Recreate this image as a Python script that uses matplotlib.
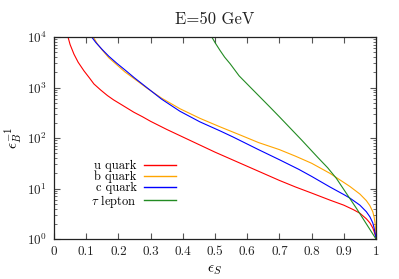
import matplotlib
matplotlib.use('Agg')
import matplotlib.pyplot as plt
import numpy as np

plt.rcParams['font.family'] = 'cmr10'
plt.rcParams['mathtext.fontset'] = 'cm'
plt.rcParams['axes.formatter.use_mathtext'] = True

# values: signal efficiency vs log10(1/eps_B)
u_eps = [0.0435, 0.05, 0.062, 0.075, 0.093, 0.11, 0.124, 0.145, 0.166, 0.185, 0.207,
         0.248, 0.275, 0.3, 0.35, 0.4, 0.45, 0.5, 0.55, 0.6, 0.65, 0.7, 0.75, 0.8,
         0.857, 0.9, 0.93, 0.95, 0.97, 0.981, 0.99, 0.994, 0.998, 1.0]
u_log = [4.0, 3.85, 3.66, 3.50, 3.33, 3.19, 3.07, 2.95, 2.84, 2.755, 2.67,
         2.51, 2.42, 2.33, 2.17, 2.02, 1.87, 1.72, 1.58, 1.44, 1.30, 1.16, 1.03, 0.91,
         0.77, 0.67, 0.58, 0.51, 0.40, 0.32, 0.22, 0.15, 0.07, 0.0]

b_eps = [0.122, 0.135, 0.15, 0.17, 0.195, 0.22, 0.25, 0.288, 0.334, 0.391, 0.453,
         0.516, 0.578, 0.635, 0.7, 0.75, 0.8, 0.857, 0.9, 0.919, 0.95, 0.97, 0.981,
         0.99, 0.994, 0.997, 0.999, 1.0]
b_log = [4.0, 3.86, 3.74, 3.59, 3.45, 3.31, 3.17, 2.99, 2.79, 2.58, 2.39,
         2.22, 2.06, 1.91, 1.77, 1.64, 1.50, 1.30, 1.12, 1.04, 0.89, 0.76, 0.66,
         0.54, 0.44, 0.32, 0.15, 0.0]

c_eps = [0.117, 0.13, 0.15, 0.17, 0.195, 0.22, 0.25, 0.288, 0.334, 0.391, 0.453,
         0.516, 0.556, 0.635, 0.7, 0.76, 0.8, 0.857, 0.9, 0.919, 0.95, 0.97, 0.981,
         0.99, 0.994, 0.998, 1.0]
c_log = [4.0, 3.89, 3.75, 3.62, 3.48, 3.35, 3.19, 3.0, 2.77, 2.53, 2.32,
         2.14, 2.02, 1.77, 1.57, 1.38, 1.24, 1.03, 0.88, 0.81, 0.67, 0.54, 0.44,
         0.32, 0.22, 0.09, 0.0]

tau_eps = [0.49, 0.5, 0.515, 0.53, 0.547, 0.575, 0.609, 0.64, 0.671, 0.7, 0.733,
           0.769, 0.82, 0.85, 0.877, 0.9, 0.919, 0.94, 0.956, 0.97, 0.981, 0.99, 1.0]
tau_log = [4.0, 3.89, 3.74, 3.60, 3.47, 3.23, 3.01, 2.81, 2.61, 2.42, 2.20,
           1.96, 1.61, 1.41, 1.20, 0.98, 0.80, 0.60, 0.44, 0.30, 0.19, 0.10, 0.0]

series = [
    ('u quark', u_eps, u_log, '#ff0000'),
    ('b quark', b_eps, b_log, '#ffa500'),
    ('c quark', c_eps, c_log, '#0000ff'),
    (r'$\tau$ lepton', tau_eps, tau_log, '#228b22'),
]

fig = plt.figure(figsize=(3.99, 2.79), dpi=100)
ax = fig.add_axes([54 / 399, 1 - 239 / 279, 322 / 399, 202 / 279])

for name, x, y, col in series:
    ax.plot(x, 10 ** np.array(y), color=col, lw=0.8, label=name)

ax.set_yscale('log')
ax.set_xlim(0, 1)
ax.set_ylim(1, 1e4)
ax.set_xticks(np.arange(0, 1.01, 0.1))
ax.set_xticklabels(['0', '0.1', '0.2', '0.3', '0.4', '0.5', '0.6', '0.7', '0.8', '0.9', '1'])
ax.tick_params(which='both', direction='in', top=True, right=True, labelsize=9.5,
               colors='#555555', labelcolor='#222222')
ax.tick_params(which='major', length=4, width=0.8, pad=5)
ax.tick_params(which='minor', length=2, width=0.6)
for s in ax.spines.values():
    s.set_linewidth(0.9)
    s.set_color('#222222')

ax.set_title('E=50 GeV', fontsize=12, pad=9, color='#222222')
ax.set_xlabel(r'$\epsilon_S$', fontsize=11, labelpad=4)
ax.set_ylabel(r'$\epsilon_B^{-1}$', fontsize=11, labelpad=1)

leg = ax.legend(loc='upper right', bbox_to_anchor=(0.379, 0.39), frameon=False, fontsize=9,
                markerfirst=False, handlelength=2.6, handletextpad=0.55, labelspacing=-0.12,
                borderpad=0, borderaxespad=0)
for h in leg.get_lines():
    h.set_linewidth(1.0)

fig.savefig('out.png', dpi=100)
